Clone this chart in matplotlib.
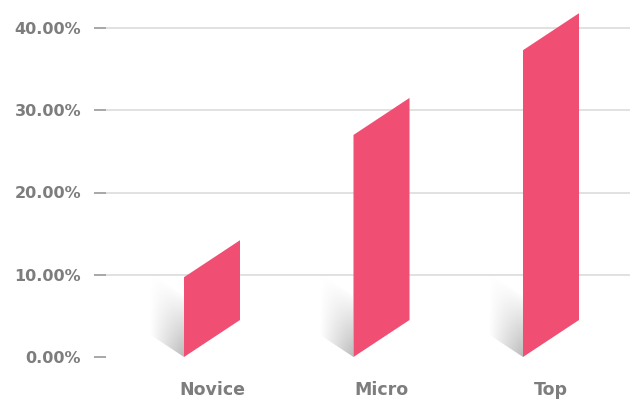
import matplotlib
matplotlib.use('Agg')
import matplotlib.pyplot as plt
import numpy as np
from matplotlib.patches import Polygon

categories = ['Novice', 'Micro', 'Top']
values = [9.7, 27.0, 37.3]
yticks = [0, 10, 20, 30, 40]
ytick_labels = ['0.00%', '10.00%', '20.00%', '30.00%', '40.00%']

BAR = '#F04E73'
TXT = '#7d7d7d'

W, H = 630, 400
fig = plt.figure(figsize=(W / 100, H / 100), dpi=100)
left_px = 106
base_px = 357
ax = fig.add_axes([left_px / W, (H - base_px) / H, 1 - left_px / W, base_px / H])
ppu_y = (357 - 28) / 40.0
ax.set_ylim(0, base_px / ppu_y)
spacing = 169.5
ax.set_xlim(-(212 - left_px) / spacing, (W - 212) / spacing)
for s in ax.spines.values():
    s.set_visible(False)

half = 28 / spacing          # half bar width in x units
skew = 37 / ppu_y            # vertical rise of right edge in y units
sh_w = 34 / spacing          # shadow width
sh_rise = sh_w / (2 * half) * skew
sh_h = 7.5

# gridlines (not at 0)
x0, x1 = ax.get_xlim()
ax.hlines([t for t in yticks if t > 0], x0, x1, color='#dedede', lw=1.3, zorder=0)

for i, v in enumerate(values):
    xl, xr = i - half, i + half
    # shadow gradient
    n = 200
    xs = np.linspace(xl - sh_w, xl, n)
    ys = np.linspace(0, sh_h + sh_rise, n)
    X, Y = np.meshgrid(xs, ys)
    u = (xl - X) / sh_w
    vv = (Y - sh_rise * u) / sh_h
    a = np.clip(1 - u, 0, 1) ** 1.1 * np.clip(1 - vv, 0, 1) ** 0.9
    img = np.zeros((n, n, 4))
    img[..., :3] = 0.55
    img[..., 3] = a * 0.6
    im = ax.imshow(img, extent=[xl - sh_w, xl, 0, sh_h + sh_rise], origin='lower',
                   aspect='auto', zorder=1, interpolation='bilinear')
    clip = Polygon([(xl, 0), (xl, sh_h), (xl - sh_w, sh_h + sh_rise), (xl - sh_w, sh_rise)],
                   closed=True, transform=ax.transData, facecolor='none', edgecolor='none')
    ax.add_patch(clip)
    im.set_clip_path(clip)
    bar = Polygon([(xl, 0), (xr, skew), (xr, v + skew), (xl, v)], closed=True,
                  facecolor=BAR, edgecolor='none', zorder=2)
    ax.add_patch(bar)

ax.set_xlim(x0, x1)
ax.set_ylim(0, base_px / ppu_y)

ax.set_yticks(yticks, ytick_labels, fontweight='bold', fontsize=11.5, color=TXT)
ax.tick_params(axis='y', length=9, width=1.3, color='#a0a0a0', pad=9)
ax.set_xticks(range(len(categories)), categories, fontweight='bold', fontsize=12.5, color=TXT)
ax.tick_params(axis='x', length=0, pad=17)

fig.savefig('out.png', dpi=100, facecolor='white')
